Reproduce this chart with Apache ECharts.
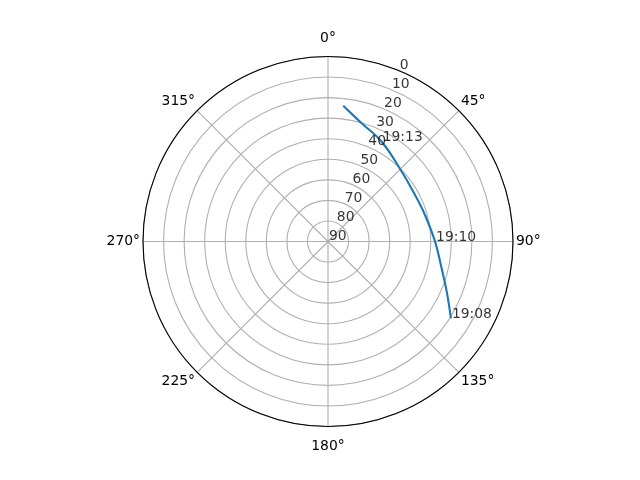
<!DOCTYPE html>
<html>
<head>
<meta charset="utf-8">
<script src="https://cdn.jsdelivr.net/npm/echarts@6/dist/echarts.min.js"></script>
<style>html,body{margin:0;padding:0;background:#fff}#c{width:640px;height:480px}</style>
</head>
<body>
<div id="c"></div>
<script>
// Satellite pass track: elevation (deg) and azimuth (deg)
const elevation = [23.6, 30.2, 34.9, 40.6, 42.0, 41.1, 37.9, 33.2, 27.3, 19.5];
const azimuth   = [6.4, 15.9, 28.3, 46.6, 61.9, 74.7, 90.1, 103.3, 112.9, 122.0];
// Time annotations
const timeLabels = ['19:13', '19:10', '19:08'];
const timeElev   = [34.9, 37.9, 19.5];
const timeAz     = [28.3, 90.1, 122.0];
// Radial tick labels (elevation), drawn along 22.5 deg
const radialTicks = [0, 10, 20, 30, 40, 50, 60, 70, 80, 90];
const radialLabelAngle = 22.5;

const FONT = 'DejaVu Sans';
const FS = 13.9;

const chart = echarts.init(document.getElementById('c'));
chart.setOption({
  animation: false,
  backgroundColor: '#fff',
  polar: { center: [328, 241.5], radius: 185 },
  angleAxis: {
    type: 'value', min: 0, max: 360, interval: 45,
    startAngle: 90, clockwise: true,
    axisLine: { show: true, lineStyle: { color: '#000', width: 1.1 } },
    axisTick: { show: false },
    axisLabel: {
      margin: 3, color: '#000', fontFamily: FONT, fontSize: FS, showMaxLabel: false,
      formatter: v => {
        const n = Number(v);
        if (n === 0) return '{a|0°}\n{t|}';
        if (n === 180) return '{b|}\n{a|180°}';
        return '{a|' + n + '°}';
      },
      rich: {
        a: { color: '#000', fontFamily: FONT, fontSize: FS },
        t: { height: 8, lineHeight: 8, fontSize: 1 },
        b: { height: 10, lineHeight: 10, fontSize: 1 }
      }
    },
    splitLine: { show: true, lineStyle: { color: '#b0b0b0', width: 1.1 } }
  },
  radiusAxis: {
    type: 'value', min: 0, max: 90, interval: 10, inverse: true,
    axisLine: { show: false }, axisTick: { show: false }, axisLabel: { show: false },
    splitLine: { show: true, lineStyle: { color: '#b0b0b0', width: 1.1 } }
  },
  series: [
    {
      type: 'line', coordinateSystem: 'polar', showSymbol: false, smooth: 0.4,
      lineStyle: { color: '#1f77b4', width: 2.1 },
      data: elevation.map((e, i) => [e, azimuth[i]]),
      z: 3
    },
    {
      type: 'scatter', coordinateSystem: 'polar', symbolSize: 0,
      data: radialTicks.map(r => ({ value: [r, radialLabelAngle], name: String(r) })),
      label: { show: true, position: [0, 0], align: 'left', verticalAlign: 'bottom',
        offset: [1, 2], formatter: p => p.name, color: '#000', fontFamily: FONT, fontSize: FS },
      z: 4
    },
    {
      type: 'scatter', coordinateSystem: 'polar', symbolSize: 0,
      data: timeLabels.map((t, i) => ({ value: [timeElev[i], timeAz[i]], name: t })),
      label: { show: true, position: [0, 0], align: 'left', verticalAlign: 'bottom',
        offset: [1, 3], formatter: p => p.name, color: '#000', fontFamily: FONT, fontSize: FS },
      z: 4
    }
  ]
});
</script>
</body>
</html>
